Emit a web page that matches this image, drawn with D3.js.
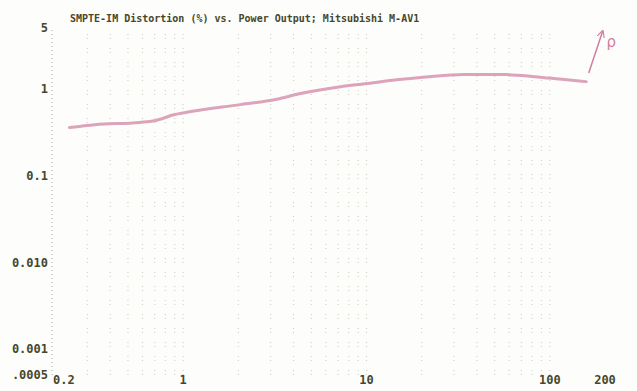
<!DOCTYPE html>
<html>
<head>
<meta charset="utf-8">
<script src="https://cdn.jsdelivr.net/npm/d3@7"></script>
<style>
  body { margin: 0; background: #fdfdfb; }
  svg { display: block; }
  text { font-family: "DejaVu Sans Mono", monospace; font-weight: bold; fill: #46472c; }
</style>
</head>
<body>
<div id="chart"></div>
<script>
const title = "SMPTE-IM Distortion (%) vs. Power Output; Mitsubishi M-AV1";

// power output (watts) and distortion (%)
const power = [0.24, 0.33, 0.58, 0.7, 0.9, 1.03, 2.05, 3.2, 4.3, 7.2, 9.8, 15, 22, 34, 58, 83, 120, 158];
const distortion = [0.375, 0.405, 0.43, 0.45, 0.53, 0.56, 0.69, 0.79, 0.92, 1.11, 1.2, 1.34, 1.45, 1.53, 1.53, 1.45, 1.34, 1.27];

const xTicks = [0.2, 1, 10, 100, 200];
const xTickLabels = ["0.2", "1", "10", "100", "200"];
const yTicks = [0.0005, 0.001, 0.01, 0.1, 1, 5];
const yTickLabels = [".0005", "0.001", "0.010", "0.1", "1", "5"];

// hand-drawn "P" arrow at the right end
const arrowFrom = [163, 1.6];
const arrowTo = [194, 4.8];

const width = 637;
const height = 391;

const svg = d3.select("#chart")
  .append("svg")
  .attr("width", width)
  .attr("height", height);

const x = d3.scaleLog().domain([0.2, 200]).range([55, 605]);
const y = d3.scaleLog().domain([0.0005, 5]).range([377, 30]);

// dotted vertical grid at log minor positions
const minor = [];
for (let p = -1; p <= 2; p++) {
  for (let m = 1; m <= 9; m++) {
    const v = m * Math.pow(10, p);
    if (v > 0.2 && v < 200) minor.push(v);
  }
}

svg.append("g")
  .selectAll("line")
  .data(minor)
  .enter().append("line")
  .attr("x1", d => x(d))
  .attr("x2", d => x(d))
  .attr("y1", y(5) + 4)
  .attr("y2", y(0.0005))
  .attr("stroke", "#b4b8a4")
  .attr("stroke-width", 1)
  .attr("stroke-dasharray", "1,3,1,9")
  .attr("opacity", 0.7);

// left axis dotted line
svg.append("line")
  .attr("x1", x(0.2) - 3)
  .attr("x2", x(0.2) - 3)
  .attr("y1", y(5))
  .attr("y2", y(0.0005))
  .attr("stroke", "#a8ac98")
  .attr("stroke-dasharray", "1,3");

svg.append("text")
  .attr("x", 70)
  .attr("y", 22)
  .attr("font-size", 10)
  .text(title);

svg.append("g")
  .selectAll("text")
  .data(yTicks)
  .enter().append("text")
  .attr("x", 48)
  .attr("y", d => y(d))
  .attr("dy", "0.2em")
  .attr("text-anchor", "end")
  .attr("font-size", 12)
  .text((d, i) => yTickLabels[i]);

svg.append("g")
  .selectAll("text")
  .data(xTicks)
  .enter().append("text")
  .attr("x", (d, i) => i === 0 ? x(d) - 2 : x(d))
  .attr("y", 384)
  .attr("text-anchor", (d, i) => i === 0 ? "start" : "middle")
  .attr("font-size", 12)
  .text((d, i) => xTickLabels[i]);

const line = d3.line()
  .x(d => x(d[0]))
  .y(d => y(d[1]))
  .curve(d3.curveMonotoneX);

svg.append("path")
  .datum(d3.zip(power, distortion))
  .attr("d", line)
  .attr("fill", "none")
  .attr("stroke", "#dca3bb")
  .attr("stroke-width", 3)
  .attr("stroke-linecap", "round");

svg.append("defs").append("marker")
  .attr("id", "head")
  .attr("viewBox", "0 0 10 10")
  .attr("refX", 8).attr("refY", 5)
  .attr("markerWidth", 5).attr("markerHeight", 5)
  .attr("orient", "auto")
  .append("path")
  .attr("d", "M0,0 L10,5 L0,10")
  .attr("fill", "none")
  .attr("stroke", "#d07fa0")
  .attr("stroke-width", 1.5);

svg.append("line")
  .attr("x1", x(arrowFrom[0])).attr("y1", y(arrowFrom[1]))
  .attr("x2", x(arrowTo[0])).attr("y2", y(arrowTo[1]))
  .attr("stroke", "#d07fa0")
  .attr("stroke-width", 1.5)
  .attr("marker-end", "url(#head)");

svg.append("text")
  .attr("x", x(arrowTo[0]) + 4)
  .attr("y", y(arrowTo[1]) + 15)
  .attr("font-size", 15)
  .style("font-weight", "normal")
  .style("font-family", "DejaVu Sans")
  .style("fill", "#d07fa0")
  .text("ρ");
</script>
</body>
</html>
